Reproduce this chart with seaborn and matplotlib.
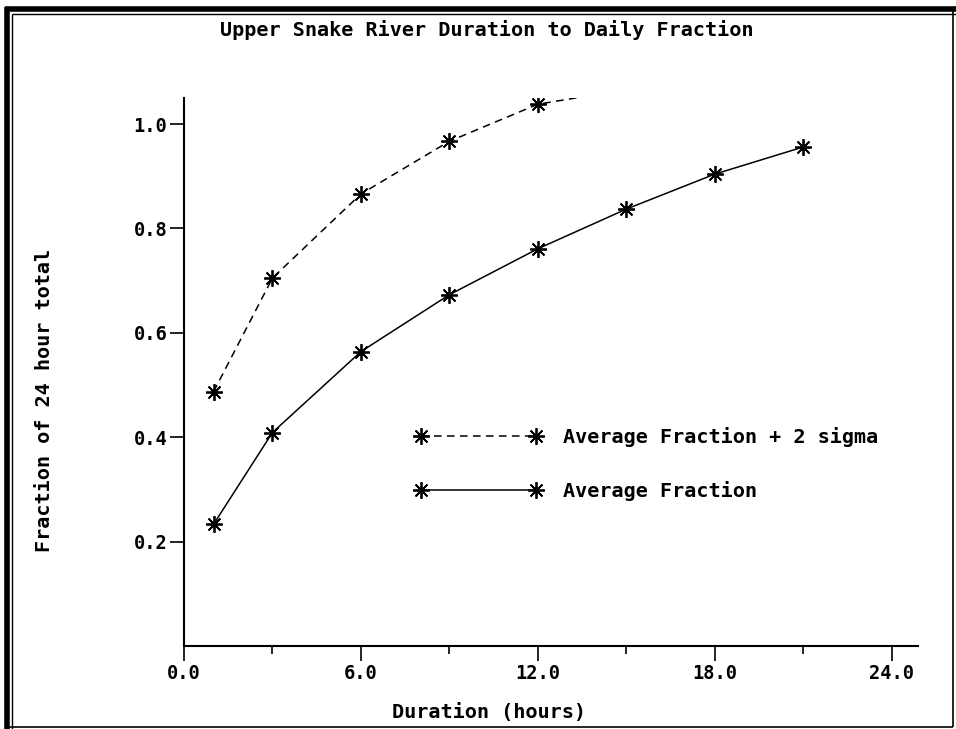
import matplotlib
matplotlib.use("Agg")
import matplotlib.pyplot as plt
from matplotlib.lines import Line2D
import seaborn as sns
import pandas as pd

# ---- data ----
duration_sigma = [1, 3, 6, 9, 12, 15]
fraction_sigma = [0.487, 0.705, 0.866, 0.967, 1.038, 1.066]
sigma_marked = [0, 1, 2, 3, 4]

duration_avg = [1, 3, 6, 9, 12, 15, 18, 21]
fraction_avg = [0.233, 0.409, 0.564, 0.673, 0.761, 0.837, 0.904, 0.956]

series_labels = ["Average Fraction + 2 sigma", "Average Fraction"]
xticks = [0, 6, 12, 18, 24]
xtick_labels = ["0.0", "6.0", "12.0", "18.0", "24.0"]
xminor = [3, 9, 15, 21]
yticks = [0.2, 0.4, 0.6, 0.8, 1.0]
ytick_labels = ["0.2", "0.4", "0.6", "0.8", "1.0"]
title = "Upper Snake River Duration to Daily Fraction"
xlabel = "Duration (hours)"
ylabel = "Fraction of 24 hour total"

sns.set_theme(style="white")
plt.rcParams['font.family'] = ['DejaVu Sans Mono', 'DejaVu Sans']
plt.rcParams['font.weight'] = 'bold'
plt.rcParams['text.color'] = 'black'
plt.rcParams['xtick.color'] = 'black'
plt.rcParams['ytick.color'] = 'black'
plt.rcParams['axes.labelcolor'] = 'black'

FS_TICK = 13.5
FS = 14.5

fig = plt.figure(figsize=(9.56, 7.29), dpi=100)
fig.patch.set_facecolor("white")
ax = fig.add_axes([0.1925, 0.1139, 0.7678, 0.7517])
ax.set_facecolor("white")

star = (8, 2, 0)
dash = (0, (5, 3.5))
mk = dict(marker=star, markersize=12, markeredgewidth=1.3,
          markeredgecolor="black", markerfacecolor="black")
df_sigma = pd.DataFrame({"x": duration_sigma, "y": fraction_sigma})
df_avg = pd.DataFrame({"x": duration_avg, "y": fraction_avg})

sns.lineplot(data=df_sigma, x="x", y="y", ax=ax, color="black", linewidth=1.1,
             linestyle=dash, markevery=sigma_marked, legend=False,
             sort=False, **mk)
sns.lineplot(data=df_avg, x="x", y="y", ax=ax, color="black", linewidth=1.1,
             legend=False, sort=False, **mk)

ax.set_xlim(0, 24.9)
ax.set_ylim(0, 1.05)
for s in ["top", "right"]:
    ax.spines[s].set_visible(False)
for s in ["left", "bottom"]:
    ax.spines[s].set_color("black")
    ax.spines[s].set_linewidth(1.5)

ax.set_xticks(xticks)
ax.set_xticklabels(xtick_labels)
ax.set_xticks(xminor, minor=True)
ax.set_yticks(yticks)
ax.set_yticklabels(ytick_labels)
ax.tick_params(axis="x", which="major", direction="out", length=11, width=1.2,
               color="black", pad=2, labelsize=FS_TICK, bottom=True)
ax.tick_params(axis="x", which="minor", direction="out", length=6, width=1.2,
               color="black", bottom=True)
ax.tick_params(axis="y", which="major", direction="out", length=10, width=1.2,
               color="black", pad=2, labelsize=FS_TICK, left=True)
for lab in ax.get_xticklabels() + ax.get_yticklabels():
    lab.set_fontweight("bold")
ax.set_xlabel("")
ax.set_ylabel("")
ax.grid(False)

handles = [
    Line2D([], [], color="black", linewidth=1.1, linestyle=dash, **mk),
    Line2D([], [], color="black", linewidth=1.1, **mk),
]
ax.legend(handles, series_labels, loc="upper left",
          bbox_to_anchor=(0.3147, 0.40), frameon=False, numpoints=2,
          handlelength=6.3, handletextpad=1.05, labelspacing=1.7,
          borderpad=0, borderaxespad=0,
          prop={"family": "DejaVu Sans Mono", "weight": "bold", "size": FS})

fig.text(0.509, 0.959, title, ha="center", va="center", fontsize=FS,
         fontweight="bold")
fig.text(0.511, 0.023, xlabel, ha="center", va="center", fontsize=FS,
         fontweight="bold")
fig.text(0.047, 0.451, ylabel, ha="center", va="center", rotation=90,
         fontsize=FS, fontweight="bold")

# frame around the figure: heavy left/top, light right/bottom
W, H = 956.0, 729.0
def fline(x0, y0, x1, y1, lw):
    fig.add_artist(Line2D([x0 / W, x1 / W], [1 - y0 / H, 1 - y1 / H],
                          transform=fig.transFigure, color="black",
                          linewidth=lw, solid_capstyle="butt"))
fline(7, 7, 7, 729, 4)
fline(5, 9, 956, 9, 4)
fline(12, 14, 12, 729, 1)
fline(12, 14, 956, 14, 1)
fline(953, 9, 953, 727, 1.2)
fline(5, 727, 953, 727, 1.2)

fig.savefig("out.png", dpi=100, facecolor="white")
